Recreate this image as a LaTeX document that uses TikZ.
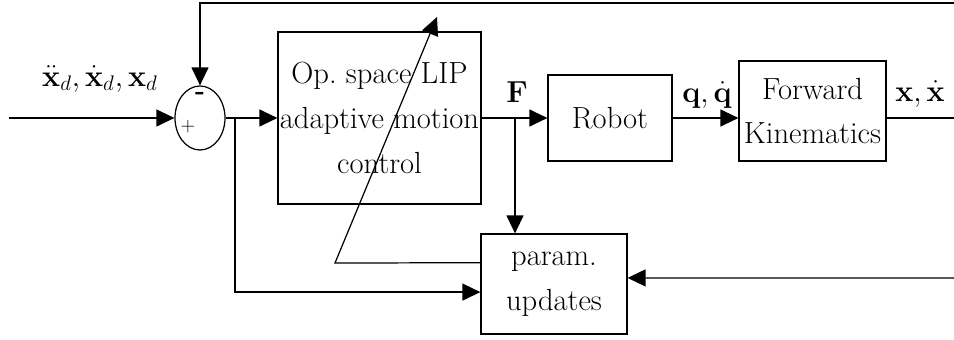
\documentclass[tikz,border=0pt]{standalone}
\usepackage{amsmath}
\usetikzlibrary{arrows.meta,calc,shapes.geometric}
\begin{document}
\begin{tikzpicture}[x=0.02cm,y=-0.02cm,
  line width=0.7pt,
  txt/.style={font=\fontsize{17.4}{25.5}\selectfont},
  block/.style={draw,rectangle,inner sep=0pt,align=center,txt},
  arr/.style={-{Triangle[length=0.36cm,width=0.34cm]}},
  lbl/.style={inner sep=0pt,font=\fontsize{17.8}{20}\selectfont}]
  \useasboundingbox (0,0) rectangle (954,340);

  % blocks
  \node[draw,ellipse,minimum width=1.0cm,minimum height=1.28cm,inner sep=0pt] (sum) at (200,118) {};
  \node[block,minimum width=4.06cm,minimum height=3.44cm] (ctrl) at (379.5,118)
    {Op.\ space LIP\\adaptive motion\\control};
  \node[block,minimum width=2.48cm,minimum height=1.72cm] (robot) at (610,118) {Robot};
  \node[block,minimum width=2.94cm,minimum height=2.0cm] (fk) at (812.5,111)
    {Forward\\Kinematics};
  \node[block,minimum width=2.92cm,minimum height=2.0cm] (param) at (554,284)
    {param.\\updates};

  % signs on the summing junction
  \node[inner sep=0pt,font=\fontsize{15}{15}\selectfont\bfseries] (minus) at (200,96) {-};
  \node[inner sep=0pt,font=\fontsize{11}{11}\selectfont] (plus) at (188,127) {+};

  % free ends and branch points
  \coordinate (in) at (9,118);
  \coordinate (topr) at (954,3);
  \coordinate (outr) at (954,118);
  \coordinate (fbr) at (954,278);
  \coordinate (j1) at (235,118);
  \coordinate (j2) at (515,118);
  \coordinate (bend) at (335,263);
  \coordinate (tip) at (437,17);

  % forward path
  \draw[arr] (in) -- (sum.west);
  \draw[arr] (sum.east) -- (ctrl.west);
  \draw[arr] (ctrl.east) -- (robot.west);
  \draw[arr] (robot.east) -- (robot.east -| fk.west);
  \draw (fk.east |- robot.east) -- (outr);

  % outer feedback into the junction
  \draw[arr] (topr) -- (sum.north |- topr) -- (sum.north);

  % signals feeding the parameter update
  \draw[arr] (j1) |- ($(param.north west)!0.58!(param.south west)$);
  \draw[arr] (j2) -- (param.north -| j2);
  \draw[arr] (fbr) -- ($(param.north east)!0.44!(param.south east)$);

  % adaptation arrow through the controller
  \draw[arr] ($(param.north west)!0.29!(param.south west)$) -- (bend) -- (tip);

  % signal labels
  \node[lbl] (ref) at (100,79) {$\ddot{\mathbf{x}}_d,\dot{\mathbf{x}}_d,\mathbf{x}_d$};
  \node[lbl] (force) at (517,92) {$\mathbf{F}$};
  \node[lbl] (joint) at (707,95) {$\mathbf{q},\dot{\mathbf{q}}$};
  \node[lbl] (task) at (920,94) {$\mathbf{x},\dot{\mathbf{x}}$};
\end{tikzpicture}
\end{document}
